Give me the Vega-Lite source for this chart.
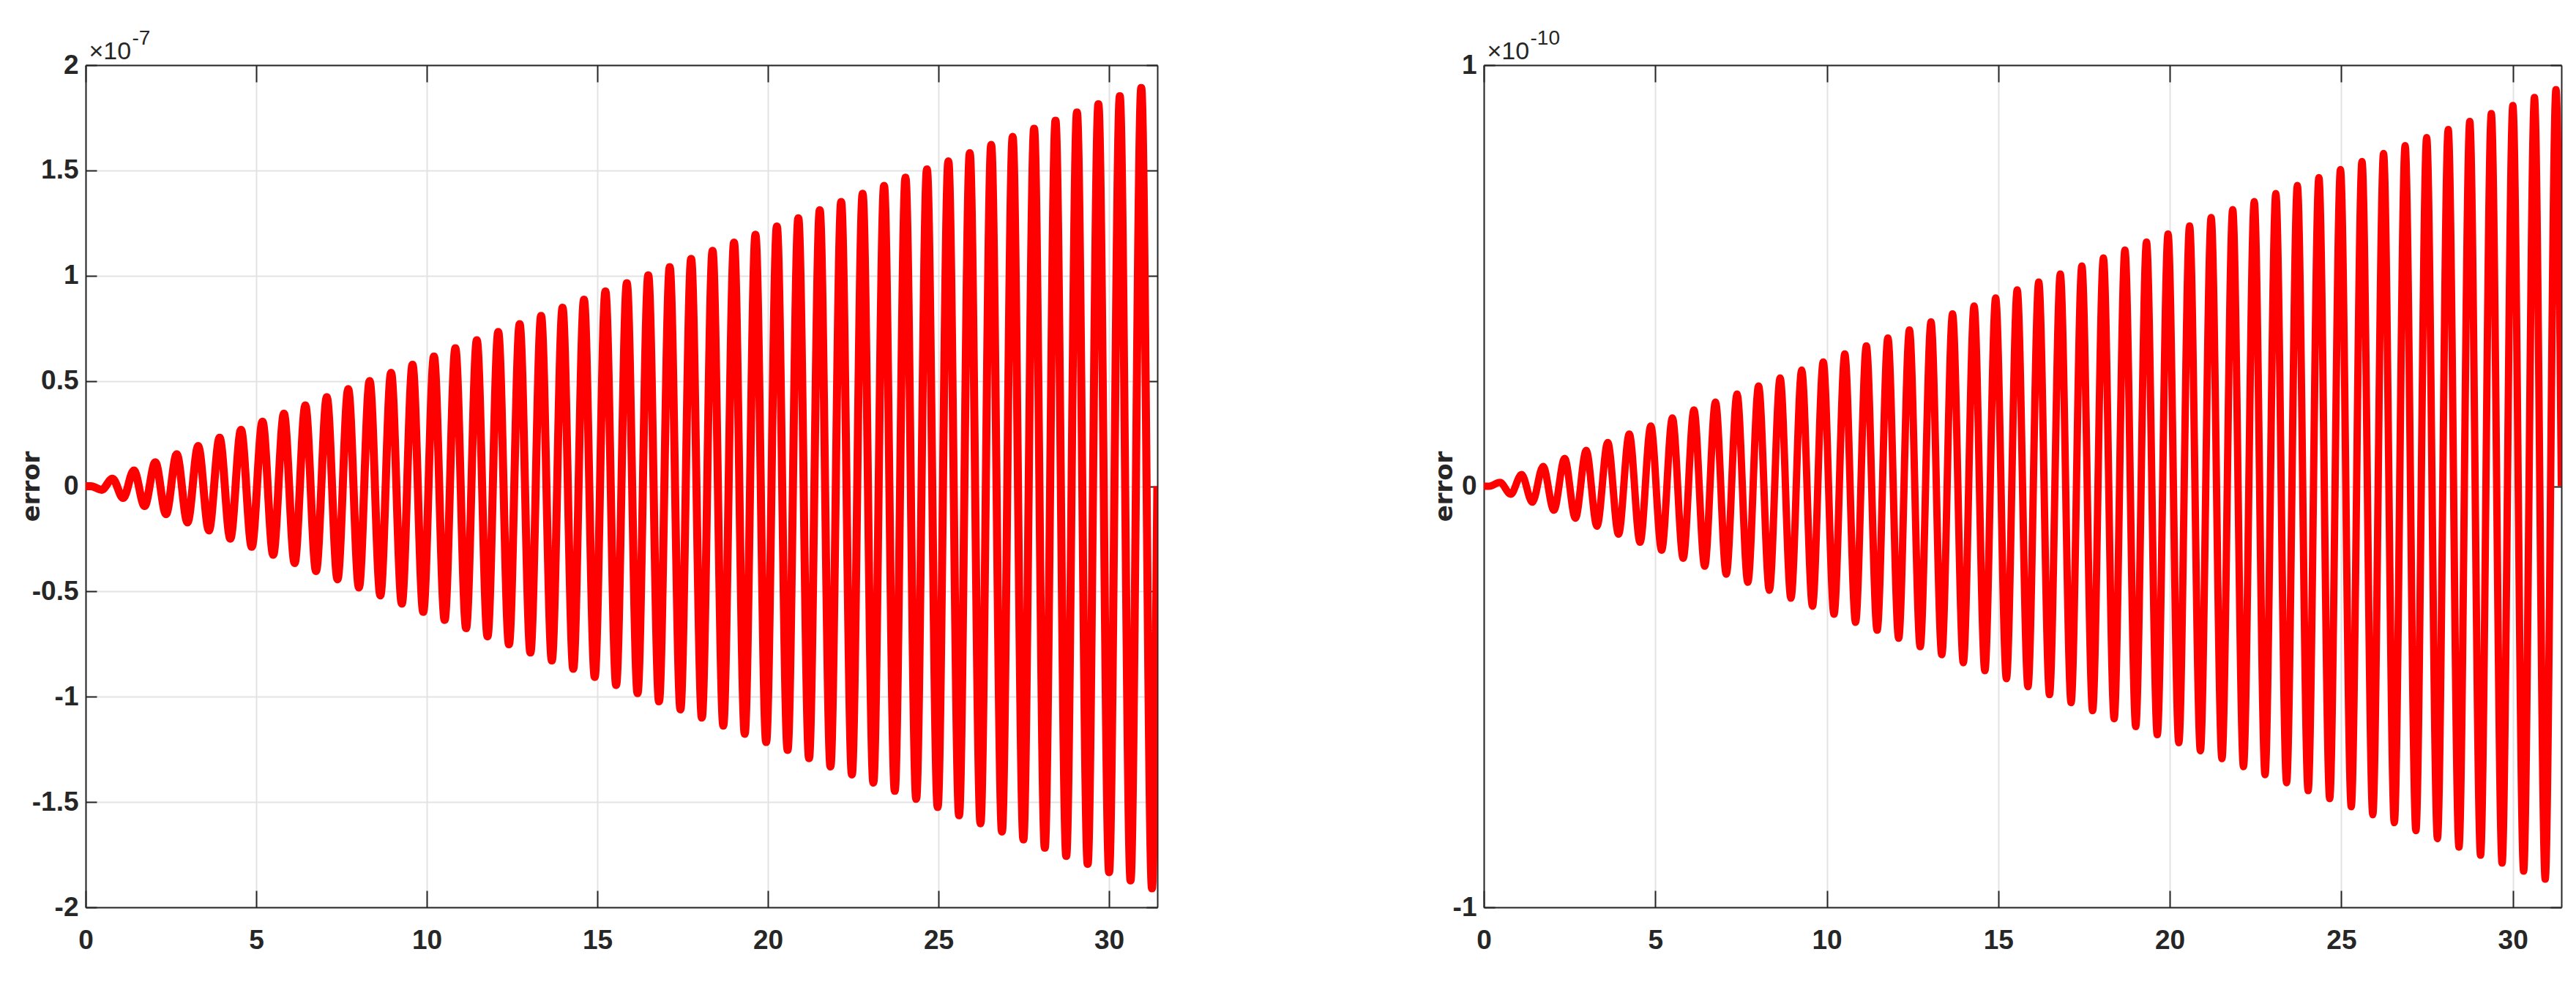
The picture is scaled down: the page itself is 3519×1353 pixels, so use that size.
{
  "$schema": "https://vega.github.io/schema/vega-lite/v6.json",
  "background": "white",
  "padding": {"left": 26, "top": 38, "right": 16, "bottom": 40},
  "datasets": {
    "left": [
      {"t":0,"e":0},{"t":0.157,"e":0},{"t":0.471,"e":-0.017},{"t":0.785,"e":0.036},{"t":1.100,"e":-0.056},{"t":1.414,"e":0.075},{"t":1.728,"e":-0.094},{"t":2.042,"e":0.114},{"t":2.356,"e":-0.133},{"t":2.670,"e":0.152},{"t":2.985,"e":-0.172},{"t":3.299,"e":0.191},{"t":3.613,"e":-0.210},{"t":3.927,"e":0.230},{"t":4.241,"e":-0.249},{"t":4.555,"e":0.268},{"t":4.869,"e":-0.288},{"t":5.184,"e":0.307},{"t":5.498,"e":-0.326},{"t":5.812,"e":0.345},{"t":6.126,"e":-0.365},{"t":6.440,"e":0.384},{"t":6.754,"e":-0.403},{"t":7.069,"e":0.423},{"t":7.383,"e":-0.442},{"t":7.697,"e":0.461},{"t":8.011,"e":-0.481},{"t":8.325,"e":0.500},{"t":8.639,"e":-0.519},{"t":8.954,"e":0.539},{"t":9.268,"e":-0.558},{"t":9.582,"e":0.577},{"t":9.896,"e":-0.597},{"t":10.210,"e":0.616},{"t":10.524,"e":-0.635},{"t":10.838,"e":0.655},{"t":11.153,"e":-0.674},{"t":11.467,"e":0.693},{"t":11.781,"e":-0.713},{"t":12.095,"e":0.732},{"t":12.409,"e":-0.751},{"t":12.723,"e":0.770},{"t":13.038,"e":-0.790},{"t":13.352,"e":0.809},{"t":13.666,"e":-0.828},{"t":13.980,"e":0.848},{"t":14.294,"e":-0.867},{"t":14.608,"e":0.886},{"t":14.923,"e":-0.906},{"t":15.237,"e":0.925},{"t":15.551,"e":-0.944},{"t":15.865,"e":0.964},{"t":16.179,"e":-0.983},{"t":16.493,"e":1.002},{"t":16.808,"e":-1.022},{"t":17.122,"e":1.041},{"t":17.436,"e":-1.060},{"t":17.750,"e":1.080},{"t":18.064,"e":-1.099},{"t":18.378,"e":1.118},{"t":18.692,"e":-1.137},{"t":19.007,"e":1.157},{"t":19.321,"e":-1.176},{"t":19.635,"e":1.195},{"t":19.949,"e":-1.215},{"t":20.263,"e":1.234},{"t":20.577,"e":-1.253},{"t":20.892,"e":1.273},{"t":21.206,"e":-1.292},{"t":21.520,"e":1.311},{"t":21.834,"e":-1.331},{"t":22.148,"e":1.350},{"t":22.462,"e":-1.369},{"t":22.777,"e":1.389},{"t":23.091,"e":-1.408},{"t":23.405,"e":1.427},{"t":23.719,"e":-1.447},{"t":24.033,"e":1.466},{"t":24.347,"e":-1.485},{"t":24.662,"e":1.505},{"t":24.976,"e":-1.524},{"t":25.290,"e":1.543},{"t":25.604,"e":-1.563},{"t":25.918,"e":1.582},{"t":26.232,"e":-1.601},{"t":26.546,"e":1.621},{"t":26.861,"e":-1.640},{"t":27.175,"e":1.659},{"t":27.489,"e":-1.678},{"t":27.803,"e":1.698},{"t":28.117,"e":-1.717},{"t":28.431,"e":1.736},{"t":28.746,"e":-1.756},{"t":29.060,"e":1.775},{"t":29.374,"e":-1.794},{"t":29.688,"e":1.814},{"t":30.002,"e":-1.833},{"t":30.316,"e":1.852},{"t":30.631,"e":-1.872},{"t":30.945,"e":1.891},{"t":31.259,"e":-1.910},{"t":31.416,"e":0}
    ],
    "right": [
      {"t":0,"e":0},{"t":0.157,"e":0},{"t":0.471,"e":0.009},{"t":0.785,"e":-0.019},{"t":1.100,"e":0.028},{"t":1.414,"e":-0.038},{"t":1.728,"e":0.047},{"t":2.042,"e":-0.057},{"t":2.356,"e":0.066},{"t":2.670,"e":-0.076},{"t":2.985,"e":0.085},{"t":3.299,"e":-0.095},{"t":3.613,"e":0.104},{"t":3.927,"e":-0.114},{"t":4.241,"e":0.124},{"t":4.555,"e":-0.133},{"t":4.869,"e":0.143},{"t":5.184,"e":-0.152},{"t":5.498,"e":0.162},{"t":5.812,"e":-0.171},{"t":6.126,"e":0.181},{"t":6.440,"e":-0.190},{"t":6.754,"e":0.200},{"t":7.069,"e":-0.209},{"t":7.383,"e":0.219},{"t":7.697,"e":-0.228},{"t":8.011,"e":0.238},{"t":8.325,"e":-0.247},{"t":8.639,"e":0.257},{"t":8.954,"e":-0.266},{"t":9.268,"e":0.276},{"t":9.582,"e":-0.285},{"t":9.896,"e":0.295},{"t":10.210,"e":-0.304},{"t":10.524,"e":0.314},{"t":10.838,"e":-0.323},{"t":11.153,"e":0.333},{"t":11.467,"e":-0.342},{"t":11.781,"e":0.352},{"t":12.095,"e":-0.361},{"t":12.409,"e":0.371},{"t":12.723,"e":-0.381},{"t":13.038,"e":0.390},{"t":13.352,"e":-0.400},{"t":13.666,"e":0.409},{"t":13.980,"e":-0.419},{"t":14.294,"e":0.428},{"t":14.608,"e":-0.438},{"t":14.923,"e":0.447},{"t":15.237,"e":-0.457},{"t":15.551,"e":0.466},{"t":15.865,"e":-0.476},{"t":16.179,"e":0.485},{"t":16.493,"e":-0.495},{"t":16.808,"e":0.504},{"t":17.122,"e":-0.514},{"t":17.436,"e":0.523},{"t":17.750,"e":-0.533},{"t":18.064,"e":0.542},{"t":18.378,"e":-0.552},{"t":18.692,"e":0.561},{"t":19.007,"e":-0.571},{"t":19.321,"e":0.580},{"t":19.635,"e":-0.590},{"t":19.949,"e":0.599},{"t":20.263,"e":-0.609},{"t":20.577,"e":0.618},{"t":20.892,"e":-0.628},{"t":21.206,"e":0.638},{"t":21.520,"e":-0.647},{"t":21.834,"e":0.657},{"t":22.148,"e":-0.666},{"t":22.462,"e":0.676},{"t":22.777,"e":-0.685},{"t":23.091,"e":0.695},{"t":23.405,"e":-0.704},{"t":23.719,"e":0.714},{"t":24.033,"e":-0.723},{"t":24.347,"e":0.733},{"t":24.662,"e":-0.742},{"t":24.976,"e":0.752},{"t":25.290,"e":-0.761},{"t":25.604,"e":0.771},{"t":25.918,"e":-0.780},{"t":26.232,"e":0.790},{"t":26.546,"e":-0.799},{"t":26.861,"e":0.809},{"t":27.175,"e":-0.818},{"t":27.489,"e":0.828},{"t":27.803,"e":-0.837},{"t":28.117,"e":0.847},{"t":28.431,"e":-0.857},{"t":28.746,"e":0.866},{"t":29.060,"e":-0.876},{"t":29.374,"e":0.885},{"t":29.688,"e":-0.895},{"t":30.002,"e":0.904},{"t":30.316,"e":-0.914},{"t":30.631,"e":0.923},{"t":30.945,"e":-0.933},{"t":31.259,"e":0.942},{"t":31.416,"e":0}
    ]
  },
  "spacing": 446,
  "bounds": "flush",
  "hconcat": [
    {
      "width": 1464,
      "height": 1151,
      "data": {"name": "left"},
      "layer": [
        {
          "mark": {"type": "line", "color": "#ff0000", "strokeWidth": 11, "interpolate": "monotone", "clip": true},
          "encoding": {
            "x": {"field": "t", "type": "quantitative", "scale": {"domain": [0, 31.4159], "nice": false, "zero": false},
                  "axis": {"orient": "bottom", "values": [0,5,10,15,20,25,30], "title": null, "grid": true, "tickSize": -23, "labelPadding": 50, "labelFlush": false, "labelExpr": "'' + datum.value"}},
            "y": {"field": "e", "type": "quantitative", "scale": {"domain": [-2, 2], "nice": false},
                  "axis": {"orient": "left", "values": [-2,-1.5,-1,-0.5,0,0.5,1,1.5,2], "title": "error", "grid": true, "tickSize": -15, "labelPadding": 25, "labelExpr": "'' + datum.value", "titleX": -64, "titleY": 575.5, "titleAngle": -90, "titleAlign": "center", "titleBaseline": "alphabetic"}}
          }
        },
        {
          "mark": {"type": "line", "opacity": 0},
          "encoding": {
            "x": {"field": "t", "type": "quantitative", "axis": {"orient": "top", "values": [0,5,10,15,20,25,30], "grid": false, "labels": false, "tickSize": -23,
                  "title": "×10", "titleX": 4, "titleY": -9, "titleAngle": 0, "titleAlign": "left", "titleBaseline": "alphabetic", "titleFont": "Liberation Sans", "titleFontWeight": "normal", "titleFontSize": 34}},
            "y": {"field": "e", "type": "quantitative", "axis": {"orient": "right", "values": [-2,-1.5,-1,-0.5,0,0.5,1,1.5,2], "grid": false, "labels": false, "tickSize": -15,
                  "title": "-7", "titleX": -1401, "titleY": -29, "titleAngle": 0, "titleAlign": "left", "titleBaseline": "alphabetic", "titleFont": "Liberation Sans", "titleFontWeight": "normal", "titleFontSize": 28}}
          }
        }
      ],
      "resolve": {"axis": {"x": "independent", "y": "independent"}}
    },
    {
      "width": 1472,
      "height": 1151,
      "data": {"name": "right"},
      "layer": [
        {
          "mark": {"type": "line", "color": "#ff0000", "strokeWidth": 10, "interpolate": "monotone", "clip": true},
          "encoding": {
            "x": {"field": "t", "type": "quantitative", "scale": {"domain": [0, 31.4159], "nice": false, "zero": false},
                  "axis": {"orient": "bottom", "values": [0,5,10,15,20,25,30], "title": null, "grid": true, "tickSize": -23, "labelPadding": 50, "labelFlush": false, "labelExpr": "'' + datum.value"}},
            "y": {"field": "e", "type": "quantitative", "scale": {"domain": [-1, 1], "nice": false},
                  "axis": {"orient": "left", "values": [-1,0,1], "title": "error", "grid": true, "tickSize": -15, "labelPadding": 25, "labelExpr": "'' + datum.value", "titleX": -44, "titleY": 575.5, "titleAngle": -90, "titleAlign": "center", "titleBaseline": "alphabetic"}}
          }
        },
        {
          "mark": {"type": "line", "opacity": 0},
          "encoding": {
            "x": {"field": "t", "type": "quantitative", "axis": {"orient": "top", "values": [0,5,10,15,20,25,30], "grid": false, "labels": false, "tickSize": -23,
                  "title": "×10", "titleX": 4, "titleY": -9, "titleAngle": 0, "titleAlign": "left", "titleBaseline": "alphabetic", "titleFont": "Liberation Sans", "titleFontWeight": "normal", "titleFontSize": 34}},
            "y": {"field": "e", "type": "quantitative", "axis": {"orient": "right", "values": [-1,0,1], "grid": false, "labels": false, "tickSize": -15,
                  "title": "-10", "titleX": -1409, "titleY": -29, "titleAngle": 0, "titleAlign": "left", "titleBaseline": "alphabetic", "titleFont": "Liberation Sans", "titleFontWeight": "normal", "titleFontSize": 28}}
          }
        }
      ],
      "resolve": {"axis": {"x": "independent", "y": "independent"}}
    }
  ],
  "config": {
    "view": {"stroke": null},
    "axis": {
      "domainColor": "#262626", "domainWidth": 2,
      "tickColor": "#262626", "tickWidth": 2,
      "gridColor": "#e3e3e3", "gridWidth": 2, "gridOpacity": 1,
      "labelFont": "Liberation Sans Narrow, Liberation Sans",
      "labelFontWeight": "bold", "labelFontSize": 37, "labelColor": "#262626",
      "titleFont": "DejaVu Sans", "titleFontWeight": "bold", "titleFontSize": 34, "titleColor": "#262626"
    }
  }
}
